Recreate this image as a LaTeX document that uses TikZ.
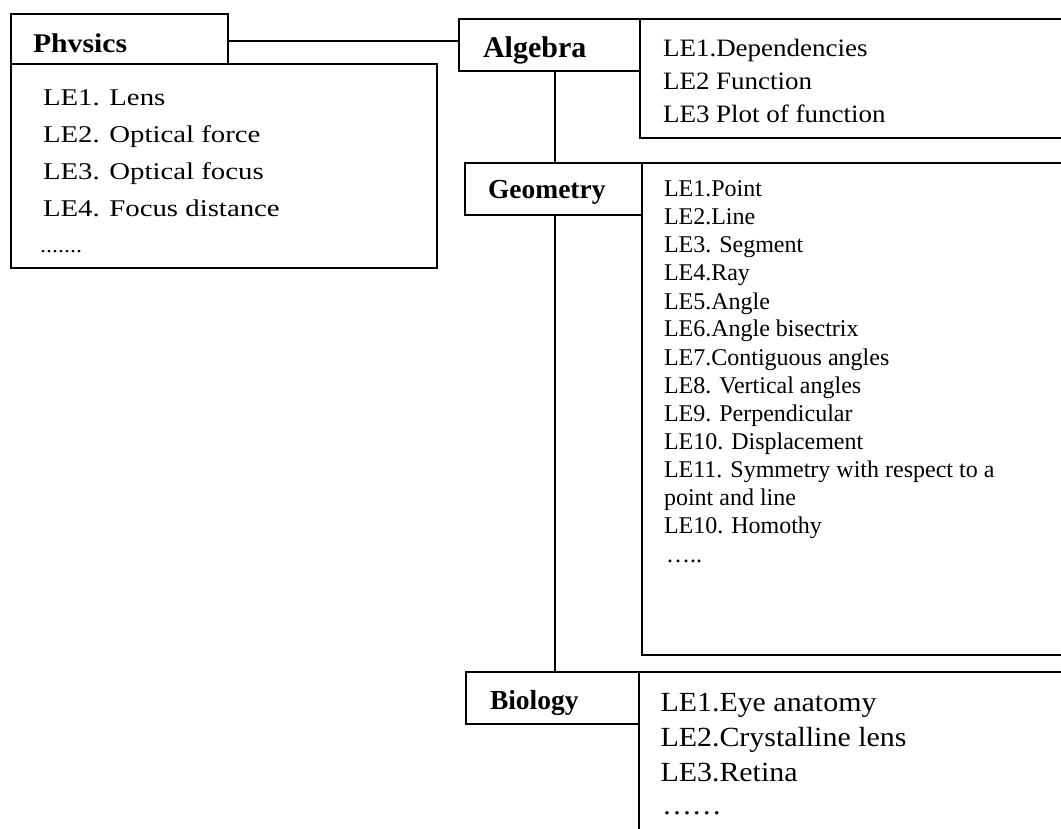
\documentclass[tikz,border=0pt]{standalone}
\usepackage{fontspec}
\setmainfont{Liberation Serif}
\newfontfamily\physfont[FakeStretch=1.2]{Liberation Serif}
\newfontfamily\widefont[FakeStretch=1.08]{Liberation Serif}
\newfontfamily\physhead[FakeStretch=1.1]{Liberation Serif}
\begin{document}
\begin{tikzpicture}[x=1pt,y=-1pt,
  box/.style={draw, line width=2.2pt, inner sep=0pt, outer sep=0pt, anchor=north west, fill=white},
  link/.style={line width=1.2pt},
  txt/.style={anchor=base west, inner sep=0pt, outer sep=0pt},
  head/.style={txt, font=\bfseries\fontsize{27.5}{30}\selectfont},
  physitem/.style={txt, font=\physfont\fontsize{24}{28}\selectfont},
  algitem/.style={txt, font=\widefont\fontsize{25}{30}\selectfont},
  geoitem/.style={txt, font=\fontsize{24}{28}\selectfont},
  bioitem/.style={txt, font=\widefont\fontsize{27.7}{32}\selectfont}]
\useasboundingbox (0,0) rectangle (1061,829);
\clip (0,0) rectangle (1061,829);

% boxes
\node[box, minimum width=217pt, minimum height=50pt] (physH) at (11,14) {};
\node[box, minimum width=426pt, minimum height=204pt] (physL) at (11,64) {};
\node[box, minimum width=181pt, minimum height=52pt] (algH) at (459,19) {};
\node[box, minimum width=440pt, minimum height=119pt] (algL) at (640,19) {};
\node[box, minimum width=177pt, minimum height=52pt] (geoH) at (465,163) {};
\node[box, minimum width=440pt, minimum height=492pt] (geoL) at (642,163) {};
\node[box, minimum width=173pt, minimum height=52pt] (bioH) at (466,672) {};
\node[box, minimum width=440pt, minimum height=200pt] (bioL) at (639,672) {};

% headers
\node[head, font=\physhead\bfseries\fontsize{27}{30}\selectfont] (physT) at (33,53) {Phvsics};
\node[head, font=\bfseries\fontsize{30}{32}\selectfont] (algT) at (483,58) {Algebra};
\node[head] (geoT) at (488,199) {Geometry};
\node[head] (bioT) at (490,709) {Biology};

% physics list
\foreach \t [count=\i] in {LE1. Lens, LE2. Optical force, LE3. Optical focus, LE4. Focus distance}
  \node[physitem] (phys\i) at (43,{106+36.7*(\i-1)}) {\t};
\node[physitem, font=\physfont\fontsize{20}{24}\selectfont] (physD) at (40,253) {.......};

% algebra list
\foreach \t [count=\i] in {LE1.Dependencies, LE2 Function, LE3 Plot of function}
  \node[algitem] (alg\i) at (663,{56.5+33*(\i-1)}) {\t};

% geometry list
\foreach \t [count=\i] in {LE1.Point, LE2.Line, LE3. Segment, LE4.Ray, LE5.Angle,
  LE6.Angle bisectrix, LE7.Contiguous angles, LE8. Vertical angles, LE9. Perpendicular,
  LE10. Displacement, LE11. Symmetry with respect to a, point and line, LE10. Homothy}
  \node[geoitem] (geo\i) at (664,{197+28*(\i-1)}) {\t};
\node[geoitem] (geoD) at (666,562) {…..};

% biology list
\foreach \t [count=\i] in {LE1.Eye anatomy, LE2.Crystalline lens, LE3.Retina}
  \node[bioitem] (bio\i) at (660.5,{711+35*(\i-1)}) {\t};
\node[bioitem] (bioD) at (662,814) {……};

% connectors
\coordinate (pj) at ([yshift=-2pt]physH.east);
\draw[link] (pj) -- (pj -| algH.west);
\coordinate (a1) at ([xshift=5.5pt]algH.south);
\draw[link] (a1) -- (a1 |- geoH.north);
\coordinate (g1) at (a1 |- geoH.south);
\draw[link] (g1) -- (g1 |- bioH.north);
\end{tikzpicture}
\end{document}
